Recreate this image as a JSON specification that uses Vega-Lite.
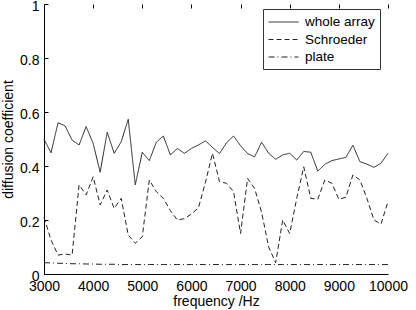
{
  "$schema": "https://vega.github.io/schema/vega-lite/v6.json",
  "width": 344,
  "height": 270,
  "autosize": {"type": "none"},
  "padding": {"left": 44, "top": 4, "right": 28, "bottom": 36},
  "background": "white",
  "config": {
    "font": "Liberation Sans",
    "view": {"stroke": null},
    "axis": {"grid": true, "gridColor": "black", "gridOpacity": 1, "gridWidth": 1, "gridDash": [4, 2000], "domainColor": "black", "labelColor": "black", "titleColor": "black", "labelFontSize": 14, "titleFontSize": 14, "titleFontWeight": "normal", "domainWidth": 1, "ticks": false, "tickSize": 0, "labelOverlap": false, "labelBound": false, "labelFlush": false}
  },
  "data": {"values": [
    {"f": 3000, "whole array": 0.499, "Schroeder": 0.21, "plate": 0.042},
    {"f": 3142.9, "whole array": 0.449, "Schroeder": 0.126, "plate": 0.041},
    {"f": 3285.7, "whole array": 0.56, "Schroeder": 0.07, "plate": 0.04},
    {"f": 3428.6, "whole array": 0.549, "Schroeder": 0.074, "plate": 0.039},
    {"f": 3571.4, "whole array": 0.496, "Schroeder": 0.07, "plate": 0.038},
    {"f": 3714.3, "whole array": 0.478, "Schroeder": 0.33, "plate": 0.038},
    {"f": 3857.1, "whole array": 0.546, "Schroeder": 0.293, "plate": 0.037},
    {"f": 4000, "whole array": 0.484, "Schroeder": 0.36, "plate": 0.037},
    {"f": 4142.9, "whole array": 0.377, "Schroeder": 0.256, "plate": 0.036},
    {"f": 4285.7, "whole array": 0.525, "Schroeder": 0.311, "plate": 0.036},
    {"f": 4428.6, "whole array": 0.447, "Schroeder": 0.243, "plate": 0.036},
    {"f": 4571.4, "whole array": 0.49, "Schroeder": 0.28, "plate": 0.035},
    {"f": 4714.3, "whole array": 0.573, "Schroeder": 0.144, "plate": 0.035},
    {"f": 4857.1, "whole array": 0.33, "Schroeder": 0.114, "plate": 0.035},
    {"f": 5000, "whole array": 0.451, "Schroeder": 0.138, "plate": 0.035},
    {"f": 5142.9, "whole array": 0.42, "Schroeder": 0.348, "plate": 0.035},
    {"f": 5285.7, "whole array": 0.488, "Schroeder": 0.305, "plate": 0.035},
    {"f": 5428.6, "whole array": 0.511, "Schroeder": 0.28, "plate": 0.035},
    {"f": 5571.4, "whole array": 0.441, "Schroeder": 0.235, "plate": 0.035},
    {"f": 5714.3, "whole array": 0.465, "Schroeder": 0.2, "plate": 0.035},
    {"f": 5857.1, "whole array": 0.447, "Schroeder": 0.205, "plate": 0.035},
    {"f": 6000, "whole array": 0.465, "Schroeder": 0.222, "plate": 0.035},
    {"f": 6142.9, "whole array": 0.478, "Schroeder": 0.245, "plate": 0.035},
    {"f": 6285.7, "whole array": 0.493, "Schroeder": 0.34, "plate": 0.035},
    {"f": 6428.6, "whole array": 0.469, "Schroeder": 0.447, "plate": 0.035},
    {"f": 6571.4, "whole array": 0.446, "Schroeder": 0.342, "plate": 0.035},
    {"f": 6714.3, "whole array": 0.486, "Schroeder": 0.336, "plate": 0.035},
    {"f": 6857.1, "whole array": 0.511, "Schroeder": 0.305, "plate": 0.035},
    {"f": 7000, "whole array": 0.475, "Schroeder": 0.15, "plate": 0.035},
    {"f": 7142.9, "whole array": 0.446, "Schroeder": 0.354, "plate": 0.035},
    {"f": 7285.7, "whole array": 0.434, "Schroeder": 0.317, "plate": 0.035},
    {"f": 7428.6, "whole array": 0.488, "Schroeder": 0.228, "plate": 0.035},
    {"f": 7571.4, "whole array": 0.447, "Schroeder": 0.1, "plate": 0.035},
    {"f": 7714.3, "whole array": 0.425, "Schroeder": 0.042, "plate": 0.035},
    {"f": 7857.1, "whole array": 0.441, "Schroeder": 0.2, "plate": 0.035},
    {"f": 8000, "whole array": 0.447, "Schroeder": 0.15, "plate": 0.035},
    {"f": 8142.9, "whole array": 0.422, "Schroeder": 0.28, "plate": 0.035},
    {"f": 8285.7, "whole array": 0.454, "Schroeder": 0.397, "plate": 0.035},
    {"f": 8428.6, "whole array": 0.451, "Schroeder": 0.28, "plate": 0.035},
    {"f": 8571.4, "whole array": 0.381, "Schroeder": 0.277, "plate": 0.035},
    {"f": 8714.3, "whole array": 0.406, "Schroeder": 0.348, "plate": 0.035},
    {"f": 8857.1, "whole array": 0.42, "Schroeder": 0.336, "plate": 0.035},
    {"f": 9000, "whole array": 0.426, "Schroeder": 0.277, "plate": 0.035},
    {"f": 9142.9, "whole array": 0.432, "Schroeder": 0.284, "plate": 0.035},
    {"f": 9285.7, "whole array": 0.477, "Schroeder": 0.367, "plate": 0.035},
    {"f": 9428.6, "whole array": 0.416, "Schroeder": 0.348, "plate": 0.035},
    {"f": 9571.4, "whole array": 0.407, "Schroeder": 0.28, "plate": 0.035},
    {"f": 9714.3, "whole array": 0.395, "Schroeder": 0.2, "plate": 0.035},
    {"f": 9857.1, "whole array": 0.41, "Schroeder": 0.185, "plate": 0.035},
    {"f": 10000, "whole array": 0.447, "Schroeder": 0.268, "plate": 0.035}
  ]},
  "transform": [{"fold": ["whole array", "Schroeder", "plate"], "as": ["series", "value"]}],
  "mark": {"type": "line", "color": "#222", "strokeWidth": 1},
  "encoding": {
    "x": {"field": "f", "type": "quantitative", "scale": {"domain": [3000, 10000], "nice": false, "zero": false},
      "axis": {"values": [3000, 4000, 5000, 6000, 7000, 8000, 9000, 10000], "format": "d", "title": "frequency /Hz", "labelPadding": 5, "titlePadding": 1}},
    "y": {"field": "value", "type": "quantitative", "scale": {"domain": [0, 1], "nice": false},
      "axis": {"values": [0, 0.2, 0.4, 0.6, 0.8, 1], "format": "~g", "title": "diffusion coefficient", "labelPadding": 5, "titlePadding": 4, "labelOffset": 2}},
    "strokeDash": {"field": "series", "type": "nominal",
      "scale": {"domain": ["whole array", "Schroeder", "plate"], "range": [[1, 0], [5, 3], [6, 3, 1, 3]]},
      "legend": {"title": null, "orient": "none", "legendX": 219, "legendY": 5, "strokeColor": "#333", "fillColor": "white", "padding": 5, "rowPadding": 2.5, "labelFontSize": 13.5, "labelColor": "black", "symbolType": "M-1,0H3", "symbolSize": 225, "symbolStrokeColor": "#222", "symbolStrokeWidth": 1, "labelOffset": 21, "cornerRadius": 0}}
  }
}
